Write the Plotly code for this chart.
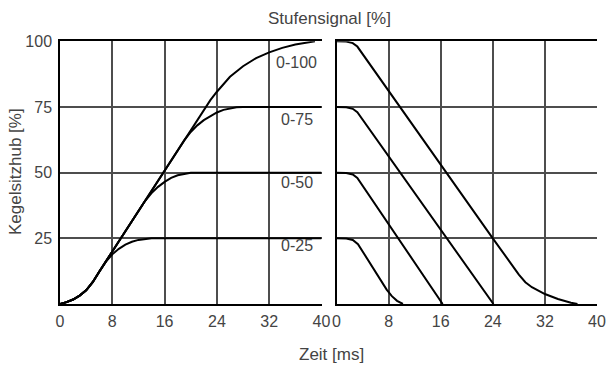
import plotly.graph_objects as go

# ---- data ----
x_ticks = [0, 8, 16, 24, 32, 40]
y_ticks = [25, 50, 75, 100]
curve_labels = ["0-100", "0-75", "0-50", "0-25"]

# left panel: step up (rise)
up_100_x = [0, 1, 2, 3, 4, 5, 6, 7, 8, 10, 12, 14, 16, 18, 20, 22, 23, 24, 26, 28, 30, 32, 34, 36, 38, 39]
up_100_y = [0, 0.7, 1.7, 3.2, 5.2, 8.3, 12.3, 16.3, 20, 27.7, 35.4, 43.1, 50.8, 58.5, 66.2, 73.9, 77.6, 80.8, 86.5, 90.5, 93.6, 95.8, 97.5, 98.8, 99.6, 100]
up_75_x = [0, 1, 2, 3, 4, 5, 6, 7, 8, 10, 12, 14, 16, 18, 19, 20, 21, 22, 23, 24, 25, 26, 27, 28, 40]
up_75_y = [0, 0.7, 1.7, 3.2, 5.2, 8.3, 12.3, 16.3, 20, 27.7, 35.4, 43.1, 50.8, 58.5, 62.3, 65.5, 68.0, 70.0, 71.6, 72.9, 73.9, 74.5, 74.9, 75, 75]
up_50_x = [0, 1, 2, 3, 4, 5, 6, 7, 8, 10, 12, 13, 14, 15, 16, 17, 18, 19, 20, 40]
up_50_y = [0, 0.7, 1.7, 3.2, 5.2, 8.3, 12.3, 16.3, 20, 27.7, 35.4, 39.2, 42.2, 44.6, 46.5, 48.0, 49.0, 49.6, 50, 50]
up_25_x = [0, 1, 2, 3, 4, 5, 6, 7, 8, 9, 10, 11, 12, 13, 14, 40]
up_25_y = [0, 0.7, 1.7, 3.2, 5.2, 8.3, 12.3, 16.0, 18.9, 21.0, 22.6, 23.7, 24.4, 24.8, 25, 25]

# right panel: step down (fall)
dn_100_x = [0, 1.5, 2.5, 3.2, 24, 28, 29, 30, 32, 34, 36, 37]
dn_100_y = [100, 99.9, 99.3, 98, 25, 11.2, 8.3, 6.4, 3.8, 1.9, 0.5, 0]
dn_75_x = [0, 1.5, 2.5, 3.2, 24.1]
dn_75_y = [75, 74.9, 74.3, 73, 0]
dn_50_x = [0, 1.5, 2.5, 3.2, 16.3]
dn_50_y = [50, 49.9, 49.3, 48, 0]
dn_25_x = [0, 1.5, 2.5, 3.3, 7.7, 8.5, 9.3, 10.2]
dn_25_y = [25, 24.9, 24.4, 22.8, 5.5, 3.0, 1.2, 0]

label_x = [36.2, 36.2, 36.2, 36.2]
label_y = [92.0, 70.4, 46.3, 22.2]

FONT = "Liberation Sans"
TXT = "#444444"
GRID = "#4d4d4d"
W, H = 606, 367

fig = go.Figure()
line = dict(color="black", width=2)
for xs, ys in [(up_100_x, up_100_y), (up_75_x, up_75_y), (up_50_x, up_50_y), (up_25_x, up_25_y)]:
    fig.add_trace(go.Scatter(x=xs, y=ys, mode="lines", line=line, xaxis="x", yaxis="y",
                             showlegend=False, hoverinfo="skip", cliponaxis=False))
for xs, ys in [(dn_100_x, dn_100_y), (dn_75_x, dn_75_y), (dn_50_x, dn_50_y), (dn_25_x, dn_25_y)]:
    fig.add_trace(go.Scatter(x=xs, y=ys, mode="lines", line=line, xaxis="x2", yaxis="y2",
                             showlegend=False, hoverinfo="skip", cliponaxis=False))

yb, yt = (H - 304) / H, (H - 41.3) / H
xd1 = [60 / W, 321.5 / W]
xd2 = [336.5 / W, 597 / W]

xcommon = dict(range=[0, 40], tickvals=x_ticks, ticktext=[str(v) for v in x_ticks],
               showgrid=True, gridcolor=GRID, gridwidth=1.5,
               showline=True, linecolor="black", linewidth=1.5, mirror=True,
               ticks="", ticklabelstandoff=2, zeroline=False,
               tickfont=dict(family=FONT, size=16, color=TXT))
ycommon = dict(range=[0, 100], tickvals=y_ticks,
               showgrid=True, gridcolor=GRID, gridwidth=1.5,
               showline=True, linecolor="black", linewidth=1.5, mirror=False,
               ticks="", zeroline=False, domain=[yb, yt],
               tickfont=dict(family=FONT, size=16, color=TXT))

fig.update_layout(
    width=W, height=H, margin=dict(l=0, r=0, t=0, b=0, pad=0, autoexpand=False),
    paper_bgcolor="white", plot_bgcolor="white",
    xaxis=dict(domain=xd1, anchor="y", **xcommon),
    xaxis2=dict(domain=xd2, anchor="y2", **xcommon),
    yaxis=dict(anchor="x", ticktext=[str(v) for v in y_ticks], ticklabelstandoff=3, **ycommon),
    yaxis2=dict(anchor="x2", showticklabels=False, **ycommon),
)

for t, lx, ly in zip(curve_labels, label_x, label_y):
    fig.add_annotation(x=lx, y=ly, xref="x", yref="y", text=t, showarrow=False,
                       xanchor="center", yanchor="middle",
                       font=dict(family=FONT, size=16, color=TXT))

fig.add_annotation(x=329 / W, y=1 - 18 / H, xref="paper", yref="paper", text="Stufensignal [%]",
                   showarrow=False, xanchor="center", yanchor="middle",
                   font=dict(family=FONT, size=17, color=TXT))
fig.add_annotation(x=331 / W, y=1 - 354 / H, xref="paper", yref="paper", text="Zeit [ms]",
                   showarrow=False, xanchor="center", yanchor="middle",
                   font=dict(family=FONT, size=17, color=TXT))
fig.add_annotation(x=15 / W, y=1 - 172 / H, xref="paper", yref="paper", text="Kegelsitzhub [%]",
                   showarrow=False, xanchor="center", yanchor="middle", textangle=-90,
                   font=dict(family=FONT, size=17, color=TXT))

fig.write_html("out.html", config={"displayModeBar": False})
